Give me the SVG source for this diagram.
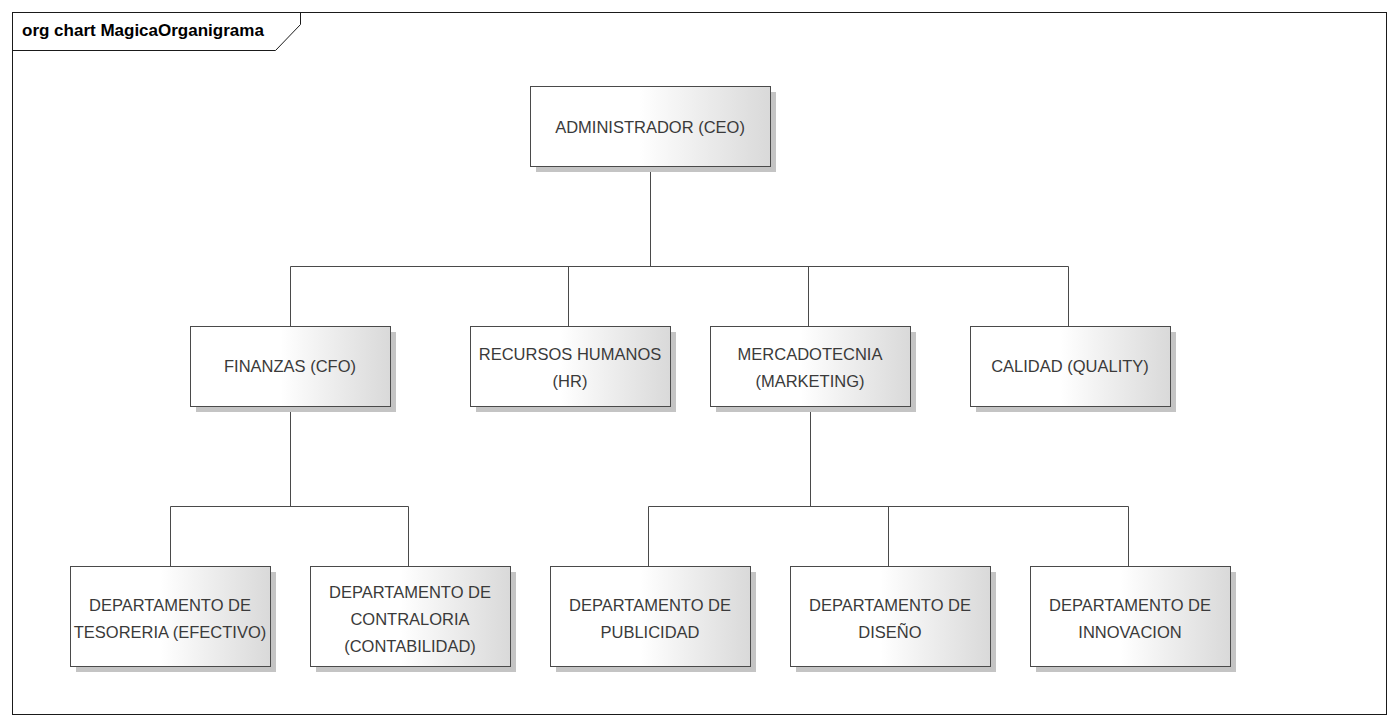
<svg xmlns="http://www.w3.org/2000/svg" width="1398" height="726" viewBox="0 0 1398 726">
<defs>
<linearGradient id="g" x1="0" y1="0" x2="1" y2="0">
<stop offset="0" stop-color="#ffffff"/>
<stop offset="0.45" stop-color="#ffffff"/>
<stop offset="1" stop-color="#d9d9d9"/>
</linearGradient>
</defs>
<style>
.frame{fill:#ffffff;stroke:#1a1a1a;stroke-width:1}
.tab{fill:none;stroke:#1a1a1a;stroke-width:1}
.title{font-family:"Liberation Sans",Arial,sans-serif;font-weight:bold;font-size:17px;fill:#000}
.sh{fill:#c4c4c4}
.box{fill:url(#g);stroke:#4a4a4a;stroke-width:1}
.lbl{font-family:"Liberation Sans",Arial,sans-serif;font-size:16.5px;fill:#3a3a3a;text-anchor:middle}
.con{fill:none;stroke:#4a4a4a;stroke-width:1}
</style>
<rect width="1398" height="726" fill="#ffffff"/>
<rect class="frame" x="12.5" y="12.5" width="1374" height="702"/>
<polyline class="tab" points="12.5,50.5 275.5,50.5 300.5,24.5 300.5,12.5"/>
<text class="title" x="22" y="36">org chart MagicaOrganigrama</text>

<g id="connectors">
<path class="con" d="M650.5,166 V266.5 M290.5,326 V266.5 H1068.5 V326 M568.5,266.5 V326 M808.5,266.5 V326"/>
<path class="con" d="M290.5,406 V506.5 M170.5,566 V506.5 H408.5 V566"/>
<path class="con" d="M810.5,406 V506.5 M648.5,566 V506.5 H1128.5 V566 M888.5,506.5 V566"/>
</g>

<g id="ceo">
<rect class="sh" x="536" y="92" width="240" height="80"/>
<rect class="box" x="530.5" y="86.5" width="240" height="80"/>
<text class="lbl" x="650" y="133">ADMINISTRADOR (CEO)</text>
</g>

<g id="cfo">
<rect class="sh" x="196" y="332" width="200" height="80"/>
<rect class="box" x="190.5" y="326.5" width="200" height="80"/>
<text class="lbl" x="290" y="372">FINANZAS (CFO)</text>
</g>

<g id="hr">
<rect class="sh" x="476" y="332" width="200" height="80"/>
<rect class="box" x="470.5" y="326.5" width="200" height="80"/>
<text class="lbl" x="570" y="360">RECURSOS HUMANOS</text>
<text class="lbl" x="570" y="387">(HR)</text>
</g>

<g id="marketing">
<rect class="sh" x="716" y="332" width="200" height="80"/>
<rect class="box" x="710.5" y="326.5" width="200" height="80"/>
<text class="lbl" x="810" y="360">MERCADOTECNIA</text>
<text class="lbl" x="810" y="387">(MARKETING)</text>
</g>

<g id="quality">
<rect class="sh" x="976" y="332" width="200" height="80"/>
<rect class="box" x="970.5" y="326.5" width="200" height="80"/>
<text class="lbl" x="1070" y="372">CALIDAD (QUALITY)</text>
</g>

<g id="tesoreria">
<rect class="sh" x="76" y="572" width="200" height="100"/>
<rect class="box" x="70.5" y="566.5" width="200" height="100"/>
<text class="lbl" x="170" y="611">DEPARTAMENTO DE</text>
<text class="lbl" x="170" y="638">TESORERIA (EFECTIVO)</text>
</g>

<g id="contraloria">
<rect class="sh" x="316" y="572" width="200" height="100"/>
<rect class="box" x="310.5" y="566.5" width="200" height="100"/>
<text class="lbl" x="410" y="598">DEPARTAMENTO DE</text>
<text class="lbl" x="410" y="625">CONTRALORIA</text>
<text class="lbl" x="410" y="652">(CONTABILIDAD)</text>
</g>

<g id="publicidad">
<rect class="sh" x="556" y="572" width="200" height="100"/>
<rect class="box" x="550.5" y="566.5" width="200" height="100"/>
<text class="lbl" x="650" y="611">DEPARTAMENTO DE</text>
<text class="lbl" x="650" y="638">PUBLICIDAD</text>
</g>

<g id="diseno">
<rect class="sh" x="796" y="572" width="200" height="100"/>
<rect class="box" x="790.5" y="566.5" width="200" height="100"/>
<text class="lbl" x="890" y="611">DEPARTAMENTO DE</text>
<text class="lbl" x="890" y="638">DISEÑO</text>
</g>

<g id="innovacion">
<rect class="sh" x="1036" y="572" width="200" height="100"/>
<rect class="box" x="1030.5" y="566.5" width="200" height="100"/>
<text class="lbl" x="1130" y="611">DEPARTAMENTO DE</text>
<text class="lbl" x="1130" y="638">INNOVACION</text>
</g>
</svg>
